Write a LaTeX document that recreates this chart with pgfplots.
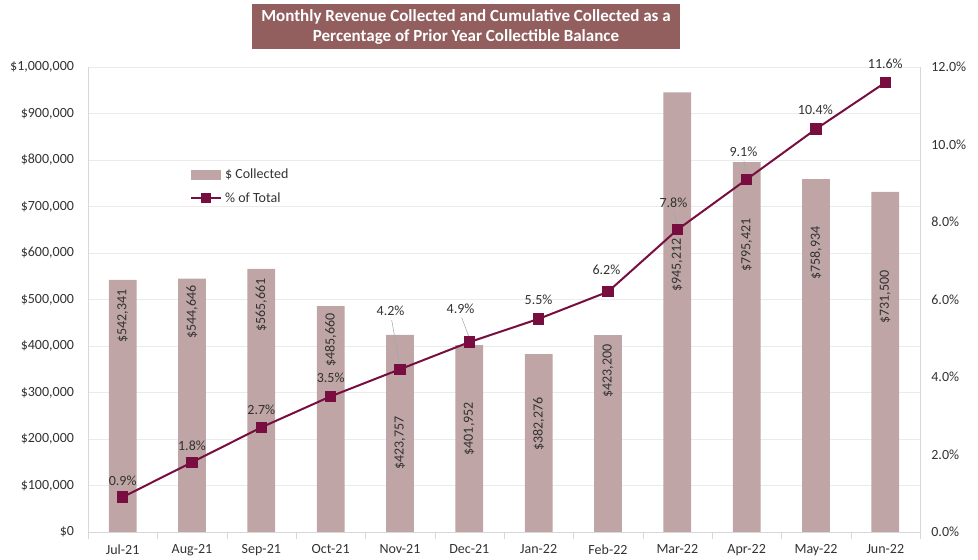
\documentclass[border=0pt]{standalone}
\usepackage{fontspec}
\setmainfont{Carlito}
\usepackage{pgfplots}
\usepackage{pgfplotstable}
\pgfplotsset{compat=1.18}

\definecolor{barfill}{RGB}{191,165,165}
\definecolor{linecol}{RGB}{120,14,64}
\definecolor{titlefill}{RGB}{146,94,94}
\definecolor{gridcol}{RGB}{235,235,235}
\definecolor{axiscol}{RGB}{215,215,215}
\definecolor{txt}{RGB}{50,50,50}

% monthly amounts collected; labely = where the rotated value label sits
\pgfplotstableread{
x collected labely
0  542341 464000
1  544646 473000
2  565661 488000
3  485660 413000
4  423757 191000
5  401952 222000
6  382276 232000
7  423200 346000
8  945212 574000
9  795421 617000
10 758934 600000
11 731500 505000
}\collected

% cumulative share of prior-year balance; lx/ly = label position
\pgfplotstableread{
x pct lx ly
0  0.9  0.000 1.32
1  1.8  1.000 2.22
2  2.7  2.000 3.15
3  3.5  3.000 3.97
4  4.2  3.864 5.70
5  4.9  4.873 5.76
6  5.5  5.998 5.99
7  6.2  6.978 6.76
8  7.8  7.944 8.49
9  9.1  8.953 9.81
10 10.4 9.991 10.89
11 11.6 11.000 12.08
}\pct

\newcommand{\lblfont}{\fontsize{10.5}{12.6}\selectfont}

\pgfplotsset{
  base/.style={
    scale only axis, width=624pt, height=348.75pt,
    at={(0,0)}, anchor=south west,
    xmin=-0.5, xmax=11.5,
    axis line style={axiscol},
    major tick length=0pt,
    ticklabel style={font=\lblfont, text=txt},
    /pgf/number format/assume math mode=true,
  }
}

\begin{document}
\begin{tikzpicture}
\path[use as bounding box] (-66pt,-21pt) rectangle (667.5pt,399pt);

\begin{axis}[base,
  ymin=0, ymax=1000000,
  axis x line*=bottom, axis y line*=left,
  ytick={0,100000,200000,300000,400000,500000,600000,700000,800000,900000,1000000},
  yticklabels={{\$0},{\$100,000},{\$200,000},{\$300,000},{\$400,000},{\$500,000},{\$600,000},{\$700,000},{\$800,000},{\$900,000},{\$1,000,000}},
  yticklabel style={xshift=-7pt},
  scaled y ticks=false,
  ymajorgrids, grid style={gridcol, line width=0.6pt},
  xtick={0,1,2,3,4,5,6,7,8,9,10,11},
  xticklabels={Jul-21,Aug-21,Sep-21,Oct-21,Nov-21,Dec-21,Jan-22,Feb-22,Mar-22,Apr-22,May-22,Jun-22},
  xticklabel style={yshift=-6pt},
  minor xtick={-0.5,0.5,1.5,2.5,3.5,4.5,5.5,6.5,7.5,8.5,9.5,10.5,11.5},
  minor tick length=5pt, tick align=outside,
  minor tick style={axiscol},
  legend style={draw=none, fill=none, at={(0.118,0.793)}, anchor=north west,
    font=\lblfont, text=txt, row sep=5pt, cells={anchor=west}},
]
\addplot[ybar, bar width=0.4, fill=barfill, draw=none,
  legend image code/.code={\fill[barfill] (0pt,-3.75pt) rectangle (22.5pt,3.75pt);}]
  table[x=x, y=collected]{\collected};
\addlegendentry{\$ Collected}
\addlegendimage{linecol, line width=1.5pt, mark=square*, mark size=3pt,
  legend image code/.code={\draw[mark repeat=2, mark phase=2] plot coordinates {(0pt,0pt) (11.25pt,0pt) (22.5pt,0pt)};}}
\addlegendentry{\% of Total}

\addplot[draw=none, forget plot, point meta=explicit,
  nodes near coords={\$\pgfmathprintnumber[fixed, precision=0, 1000 sep={,}, assume math mode=true]{\pgfplotspointmeta}},
  nodes near coords style={rotate=90, anchor=center, font=\lblfont, text=txt}]
  table[x=x, y=labely, meta=collected]{\collected};
\end{axis}

\begin{axis}[base,
  ymin=0, ymax=12, clip=false,
  axis x line=none, axis y line*=right,
  ytick={0,2,4,6,8,10,12},
  yticklabels={0.0\%,2.0\%,4.0\%,6.0\%,8.0\%,10.0\%,12.0\%},
  yticklabel style={xshift=5pt},
]
\addplot[linecol, line width=1.5pt, mark=square*, mark size=3.5pt]
  table[x=x, y=pct]{\pct};

% leader lines for labels pulled away from their points
\draw[gray!70, line width=0.4pt] (axis cs:3.88,5.47) -- (axis cs:3.99,4.36);
\draw[gray!70, line width=0.4pt] (axis cs:4.89,5.53) -- (axis cs:4.99,5.06);
\draw[gray!70, line width=0.4pt] (axis cs:7.95,8.27) -- (axis cs:7.99,7.96);
\draw[gray!70, line width=0.4pt] (axis cs:8.96,9.58) -- (axis cs:8.99,9.26);

\addplot[draw=none, point meta=explicit,
  nodes near coords={\pgfmathprintnumber[fixed, fixed zerofill, precision=1, assume math mode=true]{\pgfplotspointmeta}\%},
  nodes near coords style={anchor=center, font=\lblfont, text=txt}]
  table[x=lx, y=ly, meta=pct]{\pct};
\end{axis}

\node[fill=titlefill, text=white, font=\bfseries\fontsize{12.75}{15.5}\selectfont,
  align=center, minimum width=321pt, minimum height=33.75pt, inner sep=0pt]
  at (283.5pt,378.75pt)
  {Monthly Revenue Collected and Cumulative Collected as a\\Percentage of Prior Year Collectible Balance};
\end{tikzpicture}
\end{document}
